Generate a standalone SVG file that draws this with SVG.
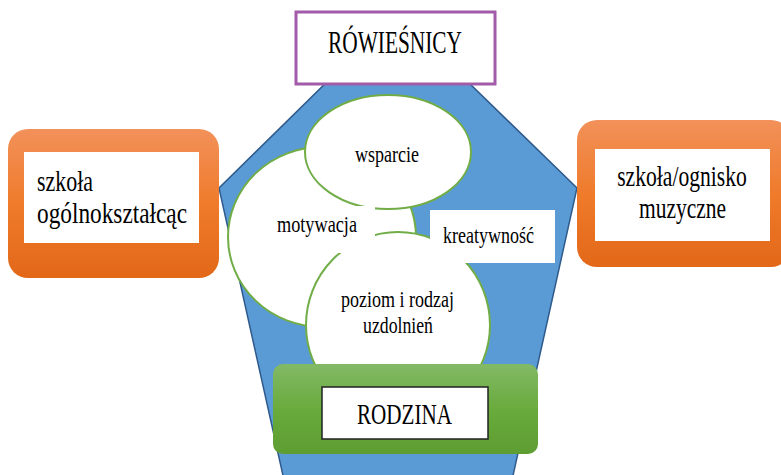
<svg xmlns="http://www.w3.org/2000/svg" width="781" height="475" viewBox="0 0 781 475">
  <style>
    .oval { fill: #fff; stroke: #70ad47; stroke-width: 2; }
    .inner { fill: #fff; }
    .t { font-family: 'Liberation Serif', 'Times New Roman', 'DejaVu Serif', serif; }
  </style>
  <defs>
    <linearGradient id="orange" x1="0" y1="0" x2="0" y2="1">
      <stop offset="0" stop-color="#f2915a"/>
      <stop offset="0.5" stop-color="#ef7b2b"/>
      <stop offset="1" stop-color="#e26818"/>
    </linearGradient>
    <linearGradient id="green" x1="0" y1="0" x2="0" y2="1">
      <stop offset="0" stop-color="#82b966"/>
      <stop offset="0.5" stop-color="#6aab3d"/>
      <stop offset="1" stop-color="#5d9d31"/>
    </linearGradient>
  </defs>
  <rect width="781" height="475" fill="#fff"/>

  <!-- central pentagon -->
  <g id="pentagon">
    <polygon points="397,13 577,188 512,480 284,480 219,188" fill="#5b9bd5" stroke="#2f5a8c" stroke-width="1.5"/>
  </g>

  <!-- connectors: none drawn -->
  <g id="connectors"/>

  <g class="t" fill="#000">
    <g id="rowiesnicy">
      <rect x="296" y="12" width="199" height="72" fill="#fff" stroke="#a25ba9" stroke-width="3"/>
      <text x="328" y="53" font-size="31" textLength="134" lengthAdjust="spacingAndGlyphs">RÓWIEŚNICY</text>
    </g>

    <g id="szkola-ogolna">
      <rect x="8" y="129" width="211" height="149" rx="20" fill="url(#orange)"/>
      <rect class="inner" x="24" y="152" width="175" height="91"/>
      <text x="37" y="191" font-size="30" textLength="56" lengthAdjust="spacingAndGlyphs">szkoła</text>
      <text x="37" y="223" font-size="30" textLength="150" lengthAdjust="spacingAndGlyphs">ogólnokształcąc</text>
    </g>

    <g id="szkola-muzyczna">
      <rect x="577" y="120" width="214" height="147" rx="20" fill="url(#orange)"/>
      <rect class="inner" x="595" y="149" width="175" height="92"/>
      <!-- narrow lettering: horizontal squeeze about each line's centre -->
      <text transform="translate(682,186) scale(0.72,1)" text-anchor="middle" font-size="30" textLength="180" lengthAdjust="spacingAndGlyphs">szkoła/ognisko</text>
      <text transform="translate(682.5,218) scale(0.72,1)" text-anchor="middle" font-size="30" textLength="121" lengthAdjust="spacingAndGlyphs">muzyczne</text>
    </g>

    <g id="motywacja">
      <ellipse class="oval" cx="322" cy="237" rx="94" ry="90"/>
    </g>

    <g id="wsparcie">
      <ellipse class="oval" cx="388" cy="152" rx="83" ry="57"/>
      <text x="355" y="162" font-size="23" textLength="64" lengthAdjust="spacingAndGlyphs">wsparcie</text>
    </g>

    <g id="poziom">
      <ellipse class="oval" cx="398" cy="325" rx="92" ry="93"/>
      <text x="341" y="307" font-size="23" textLength="113" lengthAdjust="spacingAndGlyphs">poziom i rodzaj</text>
      <text x="363" y="333" font-size="23" textLength="70" lengthAdjust="spacingAndGlyphs">uzdolnień</text>
    </g>

    <!-- label box of motywacja sits above the lower oval -->
    <g id="motywacja-label">
      <rect class="inner" x="272" y="206" width="103" height="47"/>
      <text x="277" y="232" font-size="23" textLength="80" lengthAdjust="spacingAndGlyphs">motywacja</text>
    </g>

    <g id="kreatywnosc">
      <rect class="inner" x="430" y="210" width="125" height="53"/>
      <text x="443" y="243" font-size="23" textLength="91" lengthAdjust="spacingAndGlyphs">kreatywność</text>
    </g>

    <g id="rodzina">
      <rect x="273" y="364" width="265" height="90" rx="10" fill="url(#green)"/>
      <rect x="322" y="387" width="166" height="52" fill="#fff" stroke="#222" stroke-width="1.5"/>
      <text x="357" y="424" font-size="30" textLength="95" lengthAdjust="spacingAndGlyphs">RODZINA</text>
    </g>
  </g>
</svg>
